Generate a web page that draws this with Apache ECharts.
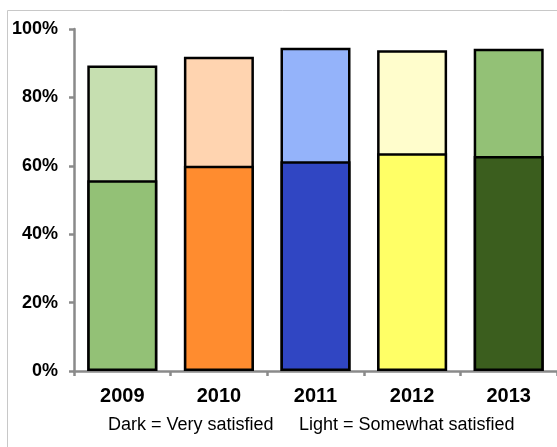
<!DOCTYPE html>
<html>
<head>
<meta charset="utf-8">
<style>
  html, body { margin: 0; padding: 0; background: #ffffff; }
  #chart { width: 557px; height: 447px; }
</style>
<script src="https://cdn.jsdelivr.net/npm/echarts@6/dist/echarts.min.js"></script>
</head>
<body>
<div id="chart"></div>
<script>
// Survey years and satisfaction shares (percent of respondents)
var years = ['2009', '2010', '2011', '2012', '2013'];
var verySatisfied = [55.8, 60.0, 61.3, 63.7, 62.9];
var somewhatSatisfied = [33.5, 31.9, 33.2, 30.1, 31.3];
var yTicks = [0, 20, 40, 60, 80, 100];

// Each year has its own hue: dark shade for "very", light shade for "somewhat"
var darkShades = ['#93c176', '#ff8c2f', '#3046c3', '#ffff66', '#3b5e1e'];
var lightShades = ['#c6dfb0', '#ffd4b0', '#94b3fa', '#fffdcc', '#93c176'];

// Total satisfied = very + somewhat; drawn as the full column behind the dark part
var totalSatisfied = verySatisfied.map(function (v, i) {
  return Math.round((v + somewhatSatisfied[i]) * 10) / 10;
});

var chart = echarts.init(document.getElementById('chart'), null, { renderer: 'canvas' });

var axisGray = '#8a8a8a';
var fontFamily = 'Liberation Sans, Arial, sans-serif';

chart.setOption({
  animation: false,
  backgroundColor: '#ffffff',
  grid: { left: 74, right: -4.5, top: 29, bottom: 76 },
  xAxis: {
    type: 'category',
    data: years,
    axisLine: { lineStyle: { color: axisGray, width: 2.5 } },
    axisTick: { show: true, length: 5, lineStyle: { color: axisGray, width: 2.5 } },
    axisLabel: { color: '#000', fontSize: 20, fontWeight: 'bold', fontFamily: fontFamily, margin: 15 }
  },
  yAxis: {
    type: 'value',
    min: yTicks[0],
    max: yTicks[yTicks.length - 1],
    interval: yTicks[1] - yTicks[0],
    axisLine: { show: true, lineStyle: { color: axisGray, width: 2.5 } },
    axisTick: { show: true, length: 5, lineStyle: { color: axisGray, width: 2.5 } },
    splitLine: { show: false },
    axisLabel: { color: '#000', fontSize: 18, fontWeight: 'bold', fontFamily: fontFamily, margin: 16, formatter: '{value}%' }
  },
  series: [
    {
      name: 'Somewhat satisfied',
      type: 'bar',
      barWidth: 70,
      z: 2,
      data: totalSatisfied,
      itemStyle: {
        color: function (p) { return lightShades[p.dataIndex]; },
        borderColor: '#000',
        borderWidth: 2.5
      }
    },
    {
      name: 'Very satisfied',
      type: 'bar',
      barWidth: 70,
      barGap: '-100%',
      z: 3,
      data: verySatisfied,
      itemStyle: {
        color: function (p) { return darkShades[p.dataIndex]; },
        borderColor: '#000',
        borderWidth: 2.5
      }
    }
  ],
  graphic: [
    {
      type: 'rect',
      shape: { x: 7.5, y: 10.5, width: 600, height: 500 },
      style: { fill: 'none', stroke: '#c8c8c8', lineWidth: 1 },
      silent: true,
      z: -10
    },
    {
      type: 'text',
      left: 108,
      top: 416,
      style: { text: 'Dark = Very satisfied', font: '18px Liberation Sans, Arial, sans-serif', fill: '#000' }
    },
    {
      type: 'text',
      left: 299,
      top: 416,
      style: { text: 'Light = Somewhat satisfied', font: '18px Liberation Sans, Arial, sans-serif', fill: '#000' }
    }
  ]
});
</script>
</body>
</html>
